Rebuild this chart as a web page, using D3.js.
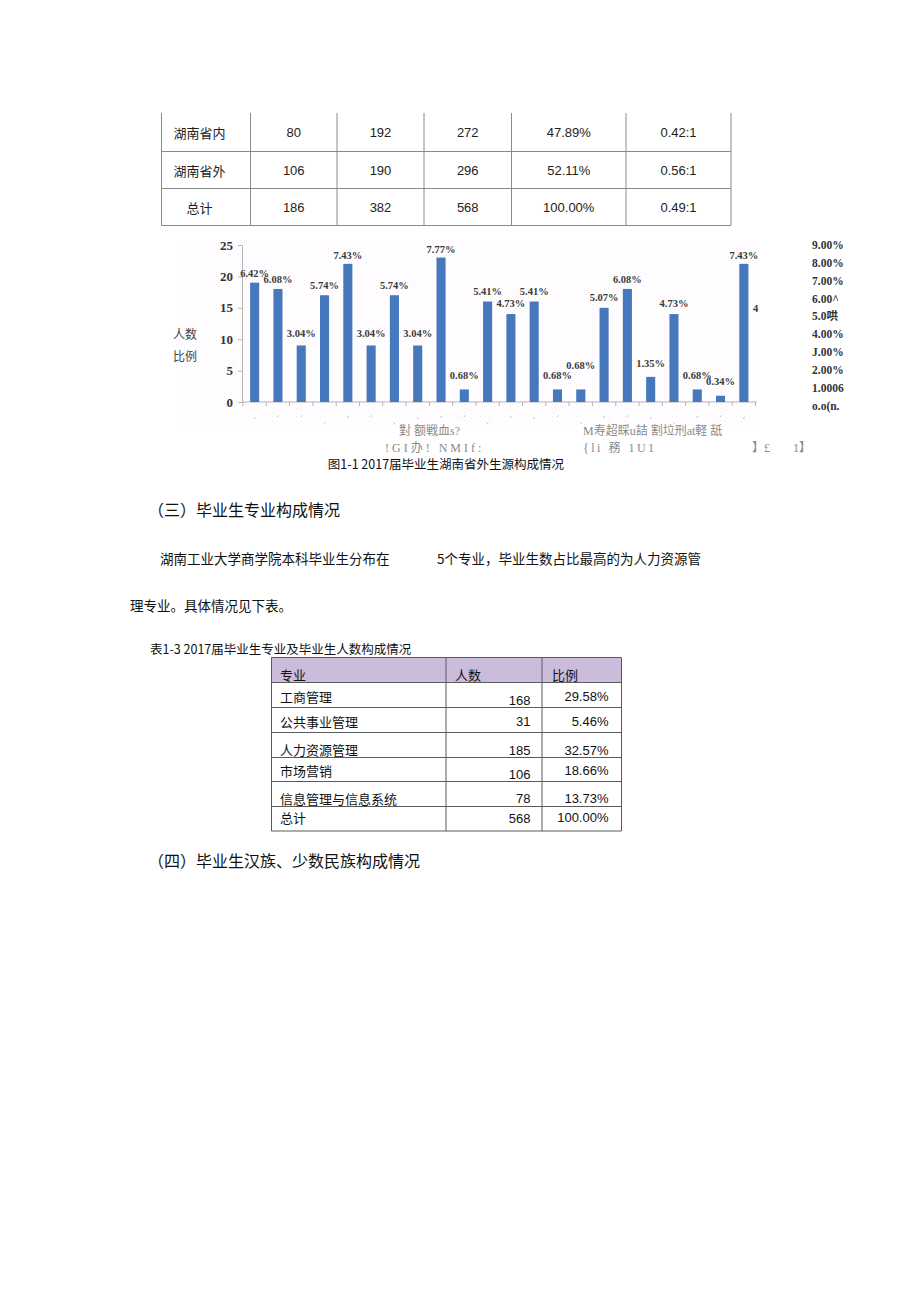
<!DOCTYPE html>
<html><head><meta charset="utf-8">
<script src="https://cdn.jsdelivr.net/npm/d3@7"></script>
<style>
html,body{margin:0;padding:0;background:#fff;}
svg{display:block;}
</style></head>
<body>
<script>
// ---------- DATA ----------
const t1Rows = ["湖南省内", "湖南省外", "总计"];
const t1Male = [80, 106, 186];
const t1Female = [192, 190, 382];
const t1Total = [272, 296, 568];
const t1Share = ["47.89%", "52.11%", "100.00%"];
const t1Ratio = ["0.42:1", "0.56:1", "0.49:1"];

const barCats = ["ʻ","ˊ","ˊ","ˏ","ʼ","ˊ","ˏ","ʻ","ʼ","ˊ","ˏ","ʼ","ʻ","ˊ","ˏ","ʼ","ˊ","ʻ","ˏ","ʼ","ˊ","ʻ"];
const barCounts = [19, 18, 9, 17, 22, 9, 17, 9, 23, 2, 16, 14, 16, 2, 2, 15, 18, 4, 14, 2, 1, 22];
const barPct = [6.42, 6.08, 3.04, 5.74, 7.43, 3.04, 5.74, 3.04, 7.77, 0.68, 5.41, 4.73, 5.41, 0.68, 0.68, 5.07, 6.08, 1.35, 4.73, 0.68, 0.34, 7.43];
const leftTicks = [0, 5, 10, 15, 20, 25];
const rightTickVals = [9, 8, 7, 6, 5, 4, 3, 2, 1, 0];
const rightTickLabels = ["9.00%", "8.00%", "7.00%", "6.00^", "5.0哄", "4.00%", "J.00%", "2.00%", "1.0006", "o.o(n."];
const axisTitle = ["人数", "比例"];
const garbledRow1 = ["對 额戦血s?", "M寿超睬u詰 割垃刑at軽 舐"];
const garbledRow2 = ["!GI办! NMIf:", "{li 務 1U1", "】£", "1】"];
const figCaption = "图1-1 2017届毕业生湖南省外生源构成情况";

const heading3 = "（三）毕业生专业构成情况";
const para1a = "湖南工业大学商学院本科毕业生分布在";
const para1b = "5个专业，毕业生数占比最高的为人力资源管";
const para2 = "理专业。具体情况见下表。";
const t2Caption = "表1-3 2017届毕业生专业及毕业生人数构成情况";
const t2Header = ["专业", "人数", "比例"];
const majors = ["工商管理", "公共事业管理", "人力资源管理", "市场营销", "信息管理与信息系统", "总计"];
const majorCounts = [168, 31, 185, 106, 78, 568];
const majorPct = ["29.58%", "5.46%", "32.57%", "18.66%", "13.73%", "100.00%"];
const heading4 = "（四）毕业生汉族、少数民族构成情况";

// ---------- LAYOUT ----------
const W = 920, H = 1303;
const CJK = "'Noto Sans CJK SC', 'Liberation Sans', sans-serif";
const SANS = "'Liberation Sans', 'Noto Sans CJK SC', sans-serif";
const SERIF = "'Liberation Serif', 'Noto Sans CJK SC', serif";

const svg = d3.select("body").append("svg").attr("width", W).attr("height", H);
svg.append("rect").attr("width", W).attr("height", H).attr("fill", "#fff");

// ---------- TABLE 1 ----------
const t1ColX = [161.5, 250.5, 337, 424, 511.5, 626, 731];
const t1RowY = [113, 151.5, 188.5, 225.5];
const g1 = svg.append("g");
const lineCol = "#8a8a8a";
t1ColX.forEach(x => g1.append("line").attr("x1", x).attr("x2", x).attr("y1", t1RowY[0]).attr("y2", t1RowY[3]).attr("stroke", lineCol));
t1RowY.slice(1).forEach(y => g1.append("line").attr("x1", t1ColX[0]).attr("x2", t1ColX[6]).attr("y1", y).attr("y2", y).attr("stroke", lineCol));
const t1Cols = [t1Rows, t1Male, t1Female, t1Total, t1Share, t1Ratio];
t1Cols.forEach((col, ci) => {
  col.forEach((v, ri) => {
    const cx = ci === 0 ? 199.5 : (t1ColX[ci] + t1ColX[ci + 1]) / 2;
    const cy = (t1RowY[ri] + t1RowY[ri + 1]) / 2 + 0.5;
    g1.append("text").attr("x", cx).attr("y", cy).attr("text-anchor", "middle")
      .attr("dominant-baseline", "central").attr("font-family", ci === 0 ? CJK : SANS)
      .attr("font-size", 13).attr("fill", "#222").text(v);
  });
});

// ---------- BAR CHART ----------
const defs = svg.append("defs");
const pat = defs.append("pattern").attr("id", "dots").attr("width", 4).attr("height", 4).attr("patternUnits", "userSpaceOnUse");
pat.append("rect").attr("width", 1).attr("height", 1).attr("fill", "#f4eef3");
pat.append("rect").attr("x", 2).attr("y", 2).attr("width", 1).attr("height", 1).attr("fill", "#f0f0f4");
svg.append("rect").attr("x", 175).attr("y", 240).attr("width", 585).attr("height", 186).attr("fill", "url(#dots)");

const x = d3.scaleBand().domain(d3.range(barCounts.length)).range([243, 755.5]).paddingInner(0.61).paddingOuter(0.305);
const y = d3.scaleLinear().domain([0, 25]).range([402, 245]);
const yR = d3.scaleLinear().domain([0, 9]).range([405.5, 245]);

const chart = svg.append("g");
// left axis
const yAxis = d3.axisLeft(y).tickValues(leftTicks).tickSize(4).tickPadding(5);
const ya = chart.append("g").attr("transform", "translate(242,0)").call(yAxis);
ya.select(".domain").attr("stroke", "#b5b5b5");
ya.selectAll(".tick line").attr("stroke", "#b5b5b5");
ya.selectAll(".tick text").attr("font-family", SERIF).attr("font-weight", "bold").attr("font-size", 13).attr("fill", "#333");

// bottom axis (ticks at band boundaries)
chart.append("line").attr("x1", 242).attr("x2", 757).attr("y1", y(0)).attr("y2", y(0)).attr("stroke", "#b5b5b5");
const bounds = d3.range(barCounts.length + 1).map(i => x.range()[0] + i * x.step());
chart.selectAll(".xt").data(bounds).join("line").attr("class", "xt")
  .attr("x1", d => d).attr("x2", d => d).attr("y1", y(0)).attr("y2", y(0) + 4).attr("stroke", "#b5b5b5");
chart.selectAll(".xl").data(barCats).join("text").attr("class", "xl")
  .attr("x", (d, i) => x(i) + x.bandwidth() / 2).attr("y", 422).attr("text-anchor", "middle")
  .attr("font-family", SERIF).attr("font-size", 8).attr("fill", "#aaa").text(d => d);

// bars
chart.selectAll(".bar").data(barCounts).join("rect").attr("class", "bar")
  .attr("x", (d, i) => x(i)).attr("width", x.bandwidth())
  .attr("y", d => y(d)).attr("height", d => y(0) - y(d)).attr("fill", "#4678bd");

// percentage labels (on secondary scale); small vertical nudges as in the reference
const labelNudge = barPct.map((d, i) => i === 14 ? -10 : 0);
chart.selectAll(".pl").data(barPct).join("text").attr("class", "pl")
  .attr("x", (d, i) => x(i) + x.bandwidth() / 2).attr("y", (d, i) => yR(d) - 14 + labelNudge[i])
  .attr("text-anchor", "middle").attr("font-family", SERIF).attr("font-weight", "bold")
  .attr("font-size", 10.5).attr("fill", "#3a3a3a").text(d => d.toFixed(2) + "%");
chart.append("text").attr("x", 753).attr("y", 312).attr("font-family", SERIF).attr("font-weight", "bold")
  .attr("font-size", 10.5).attr("fill", "#3a3a3a").text("4");

// right axis labels
chart.selectAll(".rl").data(rightTickVals).join("text").attr("class", "rl")
  .attr("x", 812).attr("y", d => yR(d)).attr("dominant-baseline", "central")
  .attr("font-family", SERIF).attr("font-weight", "bold").attr("font-size", 11.5).attr("fill", "#333")
  .text((d, i) => rightTickLabels[i]);

// axis title
axisTitle.forEach((t, i) => chart.append("text").attr("x", 173).attr("y", 333 + i * 22)
  .attr("dominant-baseline", "central").attr("font-family", CJK).attr("font-size", 12).attr("fill", "#444").text(t));

// garbled category labels
const g1x = [399, 583], g2x = [385, 583, 752, 793];
const g2sp = [3, 2.5, 0, 0];
garbledRow1.forEach((t, i) => chart.append("text").attr("x", g1x[i]).attr("y", 431).attr("dominant-baseline", "central")
  .attr("font-family", SERIF).attr("font-size", 12).attr("fill", "#8a8a8a").text(t));
garbledRow2.forEach((t, i) => chart.append("text").attr("x", g2x[i]).attr("y", 448).attr("dominant-baseline", "central")
  .attr("letter-spacing", g2sp[i])
  .attr("font-family", SERIF).attr("font-size", 12).attr("fill", "#8a8a8a").text(t));

svg.append("text").attr("x", 446).attr("y", 463).attr("text-anchor", "middle").attr("dominant-baseline", "central")
  .attr("font-family", CJK).attr("font-size", 12.5).attr("fill", "#111").text(figCaption);

// ---------- BODY TEXT ----------
svg.append("text").attr("x", 148).attr("y", 509).attr("dominant-baseline", "central")
  .attr("font-family", CJK).attr("font-size", 16).attr("fill", "#111").text(heading3);
svg.append("text").attr("x", 160).attr("y", 558).attr("dominant-baseline", "central")
  .attr("font-family", CJK).attr("font-size", 13.5).attr("fill", "#111").text(para1a);
svg.append("text").attr("x", 437).attr("y", 558).attr("dominant-baseline", "central")
  .attr("font-family", CJK).attr("font-size", 13.5).attr("fill", "#111").text(para1b);
svg.append("text").attr("x", 130).attr("y", 605).attr("dominant-baseline", "central")
  .attr("font-family", CJK).attr("font-size", 13.5).attr("fill", "#111").text(para2);
svg.append("text").attr("x", 150).attr("y", 648).attr("dominant-baseline", "central")
  .attr("font-family", CJK).attr("font-size", 12.5).attr("fill", "#111").text(t2Caption);

// ---------- TABLE 2 ----------
const t2ColX = [271.5, 446, 542, 621.5];
const t2RowY = [657.5, 682.5, 707.5, 732.5, 757.5, 781.5, 806.5, 831];
const g2 = svg.append("g");
g2.append("rect").attr("x", t2ColX[0]).attr("y", t2RowY[0]).attr("width", t2ColX[3] - t2ColX[0])
  .attr("height", t2RowY[1] - t2RowY[0]).attr("fill", "#cbbcdc");
const border = "#5a5a5a";
t2ColX.forEach(xx => g2.append("line").attr("x1", xx).attr("x2", xx).attr("y1", t2RowY[0]).attr("y2", t2RowY[7]).attr("stroke", border));
t2RowY.forEach(yy => g2.append("line").attr("x1", t2ColX[0]).attr("x2", t2ColX[3]).attr("y1", yy).attr("y2", yy).attr("stroke", border));
const hdrX = [280, 455, 552];
t2Header.forEach((t, i) => g2.append("text").attr("x", hdrX[i]).attr("y", 674).attr("dominant-baseline", "central")
  .attr("font-family", CJK).attr("font-size", 13).attr("fill", "#111").text(t));
const labOff = [1, 1, 4, 1, 4, -1], numOff = [5.5, 1, 5, 5, 4, -0.5], pctOff = [1, 1, 5, 1, 4, -1];
majors.forEach((m, i) => {
  const cy = (t2RowY[i + 1] + t2RowY[i + 2]) / 2;
  g2.append("text").attr("x", 280).attr("y", cy + labOff[i]).attr("dominant-baseline", "central")
    .attr("font-family", CJK).attr("font-size", 13).attr("fill", "#111").text(m);
  g2.append("text").attr("x", 530.5).attr("y", cy + numOff[i]).attr("dominant-baseline", "central").attr("text-anchor", "end")
    .attr("font-family", SANS).attr("font-size", 13).attr("fill", "#111").text(majorCounts[i]);
  g2.append("text").attr("x", 608.5).attr("y", cy + pctOff[i]).attr("dominant-baseline", "central").attr("text-anchor", "end")
    .attr("font-family", SANS).attr("font-size", 13).attr("fill", "#111").text(majorPct[i]);
});

svg.append("text").attr("x", 148).attr("y", 860).attr("dominant-baseline", "central")
  .attr("font-family", CJK).attr("font-size", 16).attr("fill", "#111").text(heading4);
</script>
</body></html>
